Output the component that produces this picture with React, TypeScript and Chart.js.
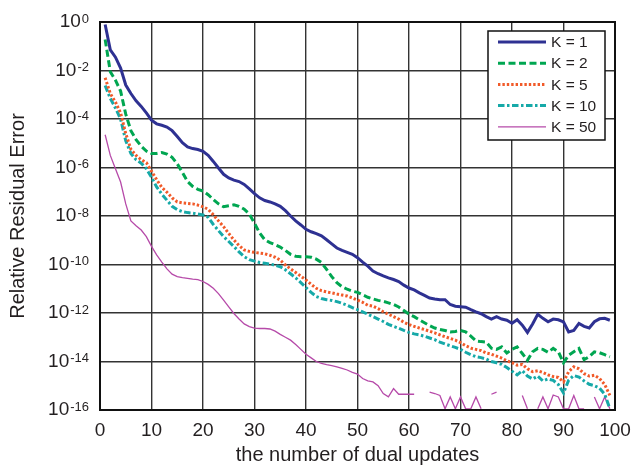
import React, { useEffect, useRef } from 'react';
import { Chart, registerables } from 'chart.js';

Chart.register(...registerables);

// ---- data (values stored as log10 of the relative residual error) ----
const ITERATIONS = [
  1, 2, 3, 4, 5, 6, 7, 8, 9, 10, 11, 12, 13, 14, 15, 16, 17, 18, 19, 20,
  21, 22, 23, 24, 25, 26, 27, 28, 29, 30, 31, 32, 33, 34, 35, 36, 37, 38, 39, 40,
  41, 42, 43, 44, 45, 46, 47, 48, 49, 50, 51, 52, 53, 54, 55, 56, 57, 58, 59, 60,
  61, 62, 63, 64, 65, 66, 67, 68, 69, 70, 71, 72, 73, 74, 75, 76, 77, 78, 79, 80,
  81, 82, 83, 84, 85, 86, 87, 88, 89, 90, 91, 92, 93, 94, 95, 96, 97, 98, 99,
];

const SERIES_LABELS = ['K = 1', 'K = 2', 'K = 5', 'K = 10', 'K = 50'];

const K1_LOG10 = [
  -0.1, -1.15, -1.45, -1.9, -2.6, -2.95, -3.25, -3.48, -3.75, -4.05,
  -4.2, -4.26, -4.33, -4.48, -4.72, -4.98, -5.15, -5.22, -5.26, -5.33,
  -5.5, -5.75, -6.02, -6.28, -6.43, -6.52, -6.58, -6.7, -6.88, -7.08,
  -7.25, -7.36, -7.42, -7.5, -7.6, -7.78, -8.0, -8.2, -8.37, -8.55,
  -8.65, -8.73, -8.82, -8.98, -9.15, -9.32, -9.42, -9.5, -9.58, -9.72,
  -9.9, -10.07, -10.27, -10.38, -10.47, -10.55, -10.62, -10.7, -10.85, -10.97,
  -11.05, -11.17, -11.27, -11.38, -11.42, -11.45, -11.45, -11.65, -11.72, -11.74,
  -11.76, -11.86, -11.95, -12.03, -12.15, -12.25, -12.15, -12.25, -12.3, -12.42,
  -12.28, -12.5, -12.8, -12.45, -12.05, -12.22, -12.36, -12.25, -12.28, -12.37,
  -12.78, -12.72, -12.43, -12.55, -12.62, -12.36, -12.24, -12.22, -12.3,
];

const K2_LOG10 = [
  -0.72, -2.05, -2.4, -2.85, -3.8, -4.48, -4.85, -5.12, -5.32, -5.42,
  -5.42, -5.38, -5.45, -5.58, -5.85, -6.2, -6.58, -6.78, -6.9, -6.97,
  -7.12, -7.32, -7.5, -7.62, -7.58, -7.54, -7.6, -7.72, -7.92, -8.3,
  -8.7, -8.98, -9.1, -9.18, -9.28, -9.42, -9.58, -9.66, -9.68, -9.68,
  -9.7, -9.78, -9.92, -10.2, -10.5, -10.75, -10.92, -11.02, -11.1, -11.15,
  -11.25, -11.35, -11.42, -11.48, -11.52, -11.58, -11.65, -11.75, -11.9, -12.05,
  -12.15, -12.28, -12.4, -12.52, -12.62, -12.68, -12.72, -12.78, -12.76, -12.72,
  -12.78, -12.95, -13.15, -13.18, -13.2, -13.45, -13.5, -13.4, -13.65, -13.5,
  -13.4, -13.67, -13.95, -13.6, -13.46, -13.5, -13.62, -13.46, -13.6, -14.05,
  -13.74, -13.6, -13.46, -13.92, -13.8, -13.6, -13.64, -13.72, -13.81,
];

const K5_LOG10 = [
  -2.3, -2.95, -3.3, -3.75, -4.6, -5.25, -5.5, -5.68, -5.8, -6.15,
  -6.5, -6.82, -7.02, -7.25, -7.42, -7.46, -7.48, -7.5, -7.55, -7.62,
  -7.72, -7.95, -8.2, -8.44, -8.72, -8.99, -9.22, -9.4, -9.46, -9.5,
  -9.53, -9.56, -9.62, -9.7, -9.82, -10.02, -10.18, -10.33, -10.48, -10.64,
  -10.82, -10.98, -11.08, -11.13, -11.17, -11.22, -11.26, -11.3, -11.38, -11.47,
  -11.56, -11.68, -11.72, -11.82, -11.95, -12.05, -12.15, -12.25, -12.38, -12.48,
  -12.55, -12.62, -12.68, -12.75, -12.82, -12.9, -12.98, -13.05, -13.12, -13.22,
  -13.35, -13.45, -13.5, -13.55, -13.65, -13.7, -13.78, -13.86, -13.97, -14.05,
  -14.15, -14.12, -14.3, -14.42, -14.38, -14.45, -14.55, -14.62, -14.66, -14.84,
  -14.42, -14.22, -14.3, -14.5, -14.6, -14.57, -14.7, -14.95, -15.4,
];

const K10_LOG10 = [
  -2.62, -3.15, -3.55, -4.0, -4.9, -5.42, -5.68, -5.82, -6.05, -6.4,
  -6.8, -7.1, -7.35, -7.6, -7.74, -7.82, -7.86, -7.88, -7.92, -7.96,
  -8.05, -8.35, -8.6, -8.85, -9.05, -9.26, -9.48, -9.68, -9.8, -9.86,
  -9.92, -9.95, -9.98, -10.03, -10.09, -10.22, -10.38, -10.55, -10.75, -10.95,
  -11.15, -11.32, -11.4, -11.45, -11.48, -11.53, -11.6, -11.68, -11.78, -11.86,
  -11.95, -12.05, -12.15, -12.25, -12.35, -12.47, -12.55, -12.63, -12.72, -12.8,
  -12.86, -12.9, -12.96, -13.03, -13.1, -13.2, -13.28, -13.35, -13.42, -13.5,
  -13.62, -13.72, -13.8, -13.84, -13.9, -14.0, -14.05, -14.12, -14.25, -14.4,
  -14.55, -14.38, -14.6, -14.72, -14.6, -14.8, -14.72, -14.78, -14.95, -15.3,
  -14.77, -14.58, -14.64, -14.8, -14.94, -15.0, -15.1, -15.35, -15.94,
];

const K50_LOG10 = [
  -4.65, -5.5, -6.05, -6.6, -7.5, -8.2, -8.4, -8.58, -8.85, -9.25,
  -9.6, -9.9, -10.18, -10.4, -10.5, -10.54, -10.57, -10.6, -10.62, -10.7,
  -10.82, -10.98, -11.2, -11.47, -11.75, -12.02, -12.25, -12.45, -12.56, -12.62,
  -12.64, -12.64, -12.66, -12.75, -12.88, -13.0, -13.12, -13.3, -13.5, -13.7,
  -13.85, -14.0, -14.08, -14.13, -14.17, -14.22, -14.28, -14.35, -14.45, -14.52,
  -14.7, -14.8, -14.84, -15.0, -15.32, -15.46, -15.12, -15.35, -15.35, -15.35,
  -15.35, null, null, -15.26, -15.32, -15.4, -15.95, -15.46, -15.95, -15.46,
  -15.95, -15.95, -15.46, -15.95, null, -15.35, -15.26, null, null, -15.4,
  null, -15.4, -15.95, null, -15.95, -15.46, -15.95, -15.38, -15.46, -15.95,
  -15.95, -15.4, -15.95, -15.95, null, -15.46, -15.95, -15.46, -15.95,
];

const SERIES_LOG10 = [K1_LOG10, K2_LOG10, K5_LOG10, K10_LOG10, K50_LOG10];

const X_MIN = 0;
const X_MAX = 100;
const X_STEP = 10;
const Y_TICK_EXPONENTS = [0, -2, -4, -6, -8, -10, -12, -14, -16];
const X_TITLE = 'the number of dual updates';
const Y_TITLE = 'Relative Residual Error';

// ---- styles ----
const FONT = "'Liberation Sans', Arial, Helvetica, sans-serif";
const TEXT = '#231f20';
const STYLES = [
  { color: '#2e3192', width: 3, dash: [] as number[] },
  { color: '#00a651', width: 3, dash: [7, 3.5] },
  { color: '#f15a29', width: 3, dash: [2.4, 2.0] },
  { color: '#16a9a8', width: 3, dash: [6.5, 2.5, 2.5, 2.5] },
  { color: '#b64aa9', width: 1.3, dash: [] as number[] },
];

function toPoints(logs: (number | null)[]) {
  return ITERATIONS.map((n, i) => ({
    x: n,
    y: logs[i] == null ? null : Math.pow(10, logs[i] as number),
  }));
}

const yTickPlugin = {
  id: 'yTickLabels',
  afterDraw(chart: any) {
    const { ctx, chartArea } = chart;
    const ys = chart.scales.y;
    ctx.save();
    ctx.fillStyle = TEXT;
    ctx.textBaseline = 'alphabetic';
    ctx.textAlign = 'left';
    const right = chartArea.left - 11;
    for (const e of Y_TICK_EXPONENTS) {
      const py = ys.getPixelForValue(Math.pow(10, e));
      const exp = String(e);
      ctx.font = `13px ${FONT}`;
      const ew = ctx.measureText(exp).width;
      ctx.font = `19px ${FONT}`;
      const bw = ctx.measureText('10').width;
      ctx.fillText('10', right - ew - 1 - bw, py + 5);
      ctx.font = `13px ${FONT}`;
      ctx.fillText(exp, right - ew, py + 0.5);
    }
    ctx.restore();
  },
};

const framePlugin = {
  id: 'frameAndLegend',
  afterDraw(chart: any) {
    const { ctx, chartArea } = chart;
    ctx.save();
    ctx.strokeStyle = '#111';
    ctx.lineWidth = 2;
    ctx.strokeRect(chartArea.left, chartArea.top, chartArea.right - chartArea.left, chartArea.bottom - chartArea.top);

    // legend box
    const bx = chartArea.right - 127;
    const by = chartArea.top + 9;
    const bw = 117;
    const bh = 109;
    ctx.fillStyle = '#fff';
    ctx.fillRect(bx, by, bw, bh);
    ctx.strokeStyle = '#111';
    ctx.lineWidth = 1.5;
    ctx.strokeRect(bx, by, bw, bh);
    const datasets = chart.data.datasets;
    datasets.forEach((ds: any, i: number) => {
      const ly = by + 11 + i * 21.2;
      ctx.beginPath();
      ctx.setLineDash(ds.borderDash || []);
      ctx.strokeStyle = ds.borderColor;
      ctx.lineWidth = ds.borderWidth;
      ctx.moveTo(bx + 10, ly);
      ctx.lineTo(bx + 58, ly);
      ctx.stroke();
      ctx.setLineDash([]);
      ctx.fillStyle = TEXT;
      ctx.font = `15.5px ${FONT}`;
      ctx.textBaseline = 'middle';
      ctx.textAlign = 'left';
      ctx.fillText(ds.label, bx + 63, ly + 1);
    });
    ctx.restore();
  },
};

export default function App() {
  const canvasRef = useRef<HTMLCanvasElement | null>(null);

  useEffect(() => {
    if (!canvasRef.current) return;
    const datasets = SERIES_LOG10.map((logs, i) => ({
      label: SERIES_LABELS[i],
      data: toPoints(logs),
      borderColor: STYLES[i].color,
      backgroundColor: STYLES[i].color,
      borderWidth: STYLES[i].width,
      borderDash: STYLES[i].dash,
      pointRadius: 0,
      tension: 0,
      spanGaps: false,
      fill: false,
    }));
    const chart = new Chart(canvasRef.current, {
      type: 'line',
      data: { datasets },
      options: {
        responsive: false,
        animation: false,
        devicePixelRatio: 1,
        layout: { padding: { top: 22, right: 20, left: 0, bottom: 0 } },
        plugins: {
          legend: { display: false },
          tooltip: { enabled: false },
        },
        scales: {
          x: {
            type: 'linear',
            min: X_MIN,
            max: X_MAX,
            afterFit: (s: any) => {
              s.height = 59;
              s.paddingLeft = 0;
              s.paddingRight = 0;
            },
            ticks: {
              stepSize: X_STEP,
              color: TEXT,
              font: { family: FONT, size: 19 },
              padding: 9,
              maxRotation: 0,
              autoSkip: false,
            },
            grid: { color: '#333', lineWidth: 1.4, drawTicks: false },
            border: { display: false },
            title: {
              display: true,
              text: X_TITLE,
              color: TEXT,
              font: { family: FONT, size: 20 },
              padding: { top: 2, bottom: 2 },
            },
          },
          y: {
            type: 'logarithmic',
            min: Math.pow(10, Y_TICK_EXPONENTS[Y_TICK_EXPONENTS.length - 1]),
            max: Math.pow(10, Y_TICK_EXPONENTS[0]),
            afterBuildTicks: (scale: any) => {
              scale.ticks = Y_TICK_EXPONENTS.map((e) => ({ value: Math.pow(10, e) }));
            },
            afterFit: (s: any) => {
              s.width = 100;
              s.paddingTop = 0;
              s.paddingBottom = 0;
            },
            ticks: { display: false },
            grid: { color: '#333', lineWidth: 1.4, drawTicks: false },
            border: { display: false },
            title: {
              display: true,
              text: Y_TITLE,
              color: TEXT,
              font: { family: FONT, size: 20 },
              padding: { top: 6, bottom: 70 },
            },
          },
        },
      } as any,
      plugins: [yTickPlugin, framePlugin],
    });
    return () => chart.destroy();
  }, []);

  return (
    <div style={{ position: 'absolute', left: 0, top: 0, width: 635, height: 469, background: '#fff' }}>
      <canvas ref={canvasRef} width={635} height={469} />
    </div>
  );
}
